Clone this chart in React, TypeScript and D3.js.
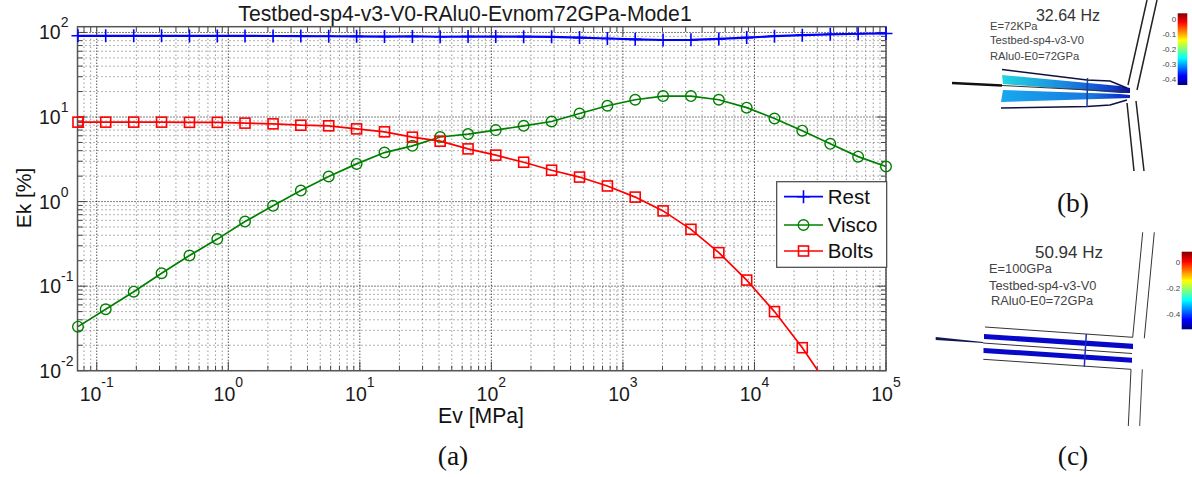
import * as d3 from 'd3';

// Ev sweep, 30 log-spaced samples
const ev = [0.072, 0.117, 0.191, 0.311, 0.507, 0.825, 1.34, 2.19, 3.56, 5.8, 9.45, 15.4, 25.1, 40.8, 66.5, 108, 176, 287, 468, 762, 1240, 2020, 3290, 5360, 8730, 14200, 23100, 37700, 61400, 100000];
const rest = [91.3, 91.3, 91.2, 91.2, 91.1, 91.0, 91.0, 90.8, 90.7, 90.2, 90.0, 89.5, 89.7, 89.0, 89.5, 89.5, 89.2, 88.8, 87.0, 84.9, 82.9, 81.5, 81.8, 83.8, 87.0, 90.3, 93.0, 95.1, 96.6, 97.4];
const visco = [0.0332, 0.0533, 0.086, 0.142, 0.23, 0.36, 0.58, 0.89, 1.35, 1.98, 2.79, 3.8, 4.56, 5.8, 6.28, 7.0, 7.87, 8.85, 11, 13.6, 16, 17.7, 17.7, 16, 12.9, 9.6, 6.9, 4.82, 3.4, 2.6];
const bolts = [8.7, 8.7, 8.7, 8.7, 8.65, 8.65, 8.47, 8.3, 8.0, 7.87, 7.24, 6.68, 5.78, 5.18, 4.2, 3.54, 2.92, 2.35, 1.95, 1.53, 1.13, 0.776, 0.47, 0.249, 0.118, 0.05, 0.0187, 0.0061, 0.0019, 0.0006];

const xDecades = [-1, 0, 1, 2, 3, 4, 5];
const yDecades = [-2, -1, 0, 1, 2];
const minorSteps = [2, 3, 4, 5, 6, 7, 8, 9];

const barTicksB = [0, -0.1, -0.2, -0.3, -0.4];
const barTicksC = [0, -0.2, -0.4];
const jet = ['#00007f', '#0000ff', '#007fff', '#00ffff', '#7fff7f', '#ffff00', '#ff7f00', '#ff0000', '#7f0000'];

const SANS = '"Liberation Sans", Arial, sans-serif';
const SERIF = '"Liberation Serif", "Times New Roman", serif';

const left = 77.5;
const right = 886;
const top = 26.7;
const bottom = 370.7;

const x = d3.scaleLog().domain([0.0714, 1e5]).range([left, right]);
const y = d3.scaleLog().domain([0.01, 117]).range([bottom, top]);

const line = d3.line<number>().x((_, i) => x(ev[i])).y((d) => y(d));

const minorValues = (decades: number[], max: number, min: number) =>
  decades.flatMap((e) => minorSteps.map((m) => m * 10 ** e)).filter((v) => v < max && v > min);

const xMinor = minorValues([-2, ...xDecades], 1e5, 0.0714);
const yMinor = minorValues(yDecades, 117, 0.01);

function Marker({ kind, cx, cy, color }: { kind: string; cx: number; cy: number; color: string }) {
  if (kind === 'plus') {
    return <path d={`M${cx - 6.5},${cy}H${cx + 6.5}M${cx},${cy - 6.5}V${cy + 6.5}`} stroke={color} strokeWidth={1.6} fill="none" />;
  }
  if (kind === 'circle') {
    return <circle cx={cx} cy={cy} r={5.3} stroke={color} strokeWidth={1.4} fill="none" />;
  }
  return <rect x={cx - 5} y={cy - 5} width={10} height={10} stroke={color} strokeWidth={1.6} fill="none" />;
}

function Series({ values, kind, color, width }: { values: number[]; kind: string; color: string; width: number }) {
  return (
    <g>
      <path d={line(values)!} fill="none" stroke={color} strokeWidth={width} />
      {values.map((v, i) => (
        <Marker key={i} kind={kind} cx={x(ev[i])} cy={y(v)} color={color} />
      ))}
    </g>
  );
}

function ColorBar({ id, x0, w, y0, y1, domain, ticks }: { id: string; x0: number; w: number; y0: number; y1: number; domain: [number, number]; ticks: number[] }) {
  const s = d3.scaleLinear().domain(domain).range([y0, y1]);
  return (
    <g>
      <defs>
        <linearGradient id={id} x1="0" y1="1" x2="0" y2="0">
          {jet.map((c, i) => (
            <stop key={c} offset={i / (jet.length - 1)} stopColor={c} />
          ))}
        </linearGradient>
      </defs>
      <rect x={x0} y={y0} width={w} height={y1 - y0} fill={`url(#${id})`} />
      {ticks.map((t) => (
        <text key={t} x={x0 - 1.5} y={s(t) + 3} textAnchor="end" fontFamily={SANS} fontSize={8} fill="#444">
          {t === 0 ? '0' : String(t)}
        </text>
      ))}
    </g>
  );
}

function PanelB() {
  return (
    <g>
      <defs>
        <linearGradient id="wedge" x1="0" y1="0" x2="1" y2="0">
          <stop offset="0" stopColor="#22d6e0" />
          <stop offset="0.5" stopColor="#1c86e0" />
          <stop offset="0.85" stopColor="#1040d0" />
          <stop offset="1" stopColor="#0a10a0" />
        </linearGradient>
        <linearGradient id="wedge2" x1="0" y1="0" x2="1" y2="0">
          <stop offset="0" stopColor="#18a8ee" />
          <stop offset="0.7" stopColor="#1878e0" />
          <stop offset="1" stopColor="#0a20c0" />
        </linearGradient>
      </defs>
      <path d="M1002,75 L1120,86 L1130,88 L1130,93 L1120,93 L1003,84 Z" fill="url(#wedge)" />
      <path d="M1001,102 L1130,98 L1130,95 L1120,94 L1003,90 Z" fill="url(#wedge2)" />
      <path d="M952,83 L1002,85.5" stroke="#111" strokeWidth={2.5} fill="none" />
      <path d="M1002,85.5 L1127,92" stroke="#333" strokeWidth={1} fill="none" />
      <path d="M1002,69.5 L1087,80 L1110,81 L1127,88" stroke="#101040" strokeWidth={1.6} fill="none" />
      <path d="M1001,108 L1087,106.5 L1110,105 L1127,100" stroke="#101040" strokeWidth={1.6} fill="none" />
      <path d="M1087.5,78 L1087,107" stroke="#1040a0" strokeWidth={1.5} />
      <path d="M1128,85 L1147,0 M1137,90 L1157,0" stroke="#222" strokeWidth={1.5} fill="none" />
      <path d="M1127,103 L1134,171 M1136,101 L1144,171" stroke="#222" strokeWidth={1.5} fill="none" />
      <text x={1068} y={21} textAnchor="middle" fontFamily={SANS} fontSize={16} fill="#333">32.64 Hz</text>
      <g fontFamily={SANS} fontSize={11.2} fill="#444">
        <text x={990} y={29.5}>E=72KPa</text>
        <text x={990} y={44}>Testbed-sp4-v3-V0</text>
        <text x={990} y={60}>RAlu0-E0=72GPa</text>
      </g>
      <ColorBar id="barB" x0={1177.7} w={9.6} y0={13.3} y1={85} domain={[0.04, -0.44]} ticks={barTicksB} />
    </g>
  );
}

function PanelC() {
  return (
    <g>
      <path d="M984,334 L1133,343.7 L1133,349 L984,339 Z" fill="#0808c8" />
      <path d="M983.5,348 L1132,357.7 L1132,362.7 L983.5,353 Z" fill="#0808c8" />
      <path d="M935.7,337 L983,342 L983,343 L935.7,340 Z" fill="#101850" />
      <path d="M983,343 L1132,353.5" stroke="#333" strokeWidth={1} fill="none" />
      <path d="M985,327 L1132.7,337.3 L1142.7,232.3" stroke="#333" strokeWidth={1} fill="none" />
      <path d="M1154.3,232.3 L1144.3,338.3" stroke="#333" strokeWidth={1} fill="none" />
      <path d="M983.3,359.3 L1131,369.3 L1128.3,426" stroke="#333" strokeWidth={1} fill="none" />
      <path d="M1142.3,369.3 L1139.7,426" stroke="#444" strokeWidth={1} fill="none" />
      <path d="M1086.3,334 L1084.3,366.7" stroke="#2030b0" strokeWidth={1.5} />
      <text x={1069} y={258} textAnchor="middle" fontFamily={SANS} fontSize={17} fill="#333">50.94 Hz</text>
      <g fontFamily={SANS} fontSize={12.8} fill="#444">
        <text x={989} y={272.7}>E=100GPa</text>
        <text x={989} y={290}>Testbed-sp4-v3-V0</text>
        <text x={991} y={305}>RAlu0-E0=72GPa</text>
      </g>
      <ColorBar id="barC" x0={1181.7} w={11} y0={251.7} y1={329.3} domain={[0.08, -0.52]} ticks={barTicksC} />
    </g>
  );
}

export default function App() {
  const legendRows = [
    { name: 'Rest', kind: 'plus', color: '#0000ff', cy: 196.7, w: 1.8 },
    { name: 'Visco', kind: 'circle', color: '#008000', cy: 225, w: 1.6 },
    { name: 'Bolts', kind: 'square', color: '#ff0000', cy: 251, w: 1.6 },
  ];

  return (
    <svg width={1192} height={477} style={{ position: 'absolute', left: 0, top: 0, background: '#fff' }}>
      <defs>
        <clipPath id="plotClip">
          <rect x={left} y={top} width={right - left} height={bottom - top} />
        </clipPath>
      </defs>

      {/* grid */}
      <g fill="none">
        {xMinor.map((v) => (
          <line key={v} x1={x(v)} x2={x(v)} y1={top} y2={bottom} stroke="#666" strokeWidth={1} strokeDasharray="1 3" />
        ))}
        {yMinor.map((v) => (
          <line key={v} x1={left} x2={right} y1={y(v)} y2={y(v)} stroke="#666" strokeWidth={1} strokeDasharray="1 3" />
        ))}
        {xDecades.map((e) => (
          <line key={e} x1={x(10 ** e)} x2={x(10 ** e)} y1={top} y2={bottom} stroke="#000" strokeWidth={1} strokeDasharray="1 2" />
        ))}
        {yDecades.map((e) => (
          <line key={e} x1={left} x2={right} y1={y(10 ** e)} y2={y(10 ** e)} stroke="#000" strokeWidth={1} strokeDasharray="1 2" />
        ))}
      </g>

      {/* tick marks on all four sides */}
      <g stroke="#444" strokeWidth={1}>
        {xMinor.map((v) => (
          <path key={v} d={`M${x(v)},${bottom}v-5M${x(v)},${top}v5`} fill="none" />
        ))}
        {yMinor.map((v) => (
          <path key={v} d={`M${left},${y(v)}h5M${right},${y(v)}h-5`} fill="none" />
        ))}
        {xDecades.map((e) => (
          <path key={e} d={`M${x(10 ** e)},${bottom}v-9M${x(10 ** e)},${top}v9`} fill="none" />
        ))}
        {yDecades.map((e) => (
          <path key={e} d={`M${left},${y(10 ** e)}h9M${right},${y(10 ** e)}h-9`} fill="none" />
        ))}
      </g>

      <rect x={left} y={top} width={right - left} height={bottom - top} fill="none" stroke="#555" strokeWidth={1.5} />

      {/* series; rest and visco markers sit on the axes edges, bolts runs out of the bottom */}
      <Series values={rest} kind="plus" color="#0000ff" width={2.2} />
      <Series values={visco} kind="circle" color="#008000" width={1.7} />
      <g clipPath="url(#plotClip)">
        <Series values={bolts} kind="square" color="#ff0000" width={1.7} />
      </g>
      <Marker kind="square" cx={x(ev[0])} cy={y(bolts[0])} color="#ff0000" />

      {/* tick labels */}
      <g fontFamily={SANS} fill="#1a1a1a">
        {xDecades.map((e) => (
          <text key={e} x={x(10 ** e)} y={400.7} textAnchor="middle" fontSize={19.5}>
            10<tspan fontSize={14} dy={-14}>{e}</tspan>
          </text>
        ))}
        {yDecades.map((e) => (
          <text key={e} x={e < 0 ? 73.5 : 68.5} y={y(10 ** e) + 7} textAnchor="end" fontSize={19.5}>
            10<tspan fontSize={14} dy={-12}>{e}</tspan>
          </text>
        ))}
      </g>

      <text x={465} y={20.5} textAnchor="middle" fontFamily={SANS} fontSize={21.2} fill="#1a1a1a">
        Testbed-sp4-v3-V0-RAlu0-Evnom72GPa-Mode1
      </text>
      <text x={481} y={423} textAnchor="middle" fontFamily={SANS} fontSize={21.2} fill="#111">Ev [MPa]</text>
      <text transform="translate(30.5,198) rotate(-90)" textAnchor="middle" fontFamily={SANS} fontSize={21} fill="#111">Ek [%]</text>

      {/* legend */}
      <rect x={776.7} y={181.7} width={110} height={85.6} fill="#fff" stroke="#444" strokeWidth={1.2} />
      {legendRows.map((r) => (
        <g key={r.name}>
          <line x1={784} x2={823} y1={r.cy} y2={r.cy} stroke={r.color} strokeWidth={r.w} />
          <Marker kind={r.kind} cx={803.5} cy={r.cy} color={r.color} />
          <text x={827.7} y={r.cy + 7} fontFamily={SANS} fontSize={20.5} fill="#111">{r.name}</text>
        </g>
      ))}

      <PanelB />
      <PanelC />

      {/* captions */}
      <g fontFamily={SERIF} fontSize={27.5} fill="#111" textAnchor="middle">
        <text x={453} y={465}>(a)</text>
        <text x={1073} y={212}>(b)</text>
        <text x={1073} y={465}>(c)</text>
      </g>
    </svg>
  );
}
